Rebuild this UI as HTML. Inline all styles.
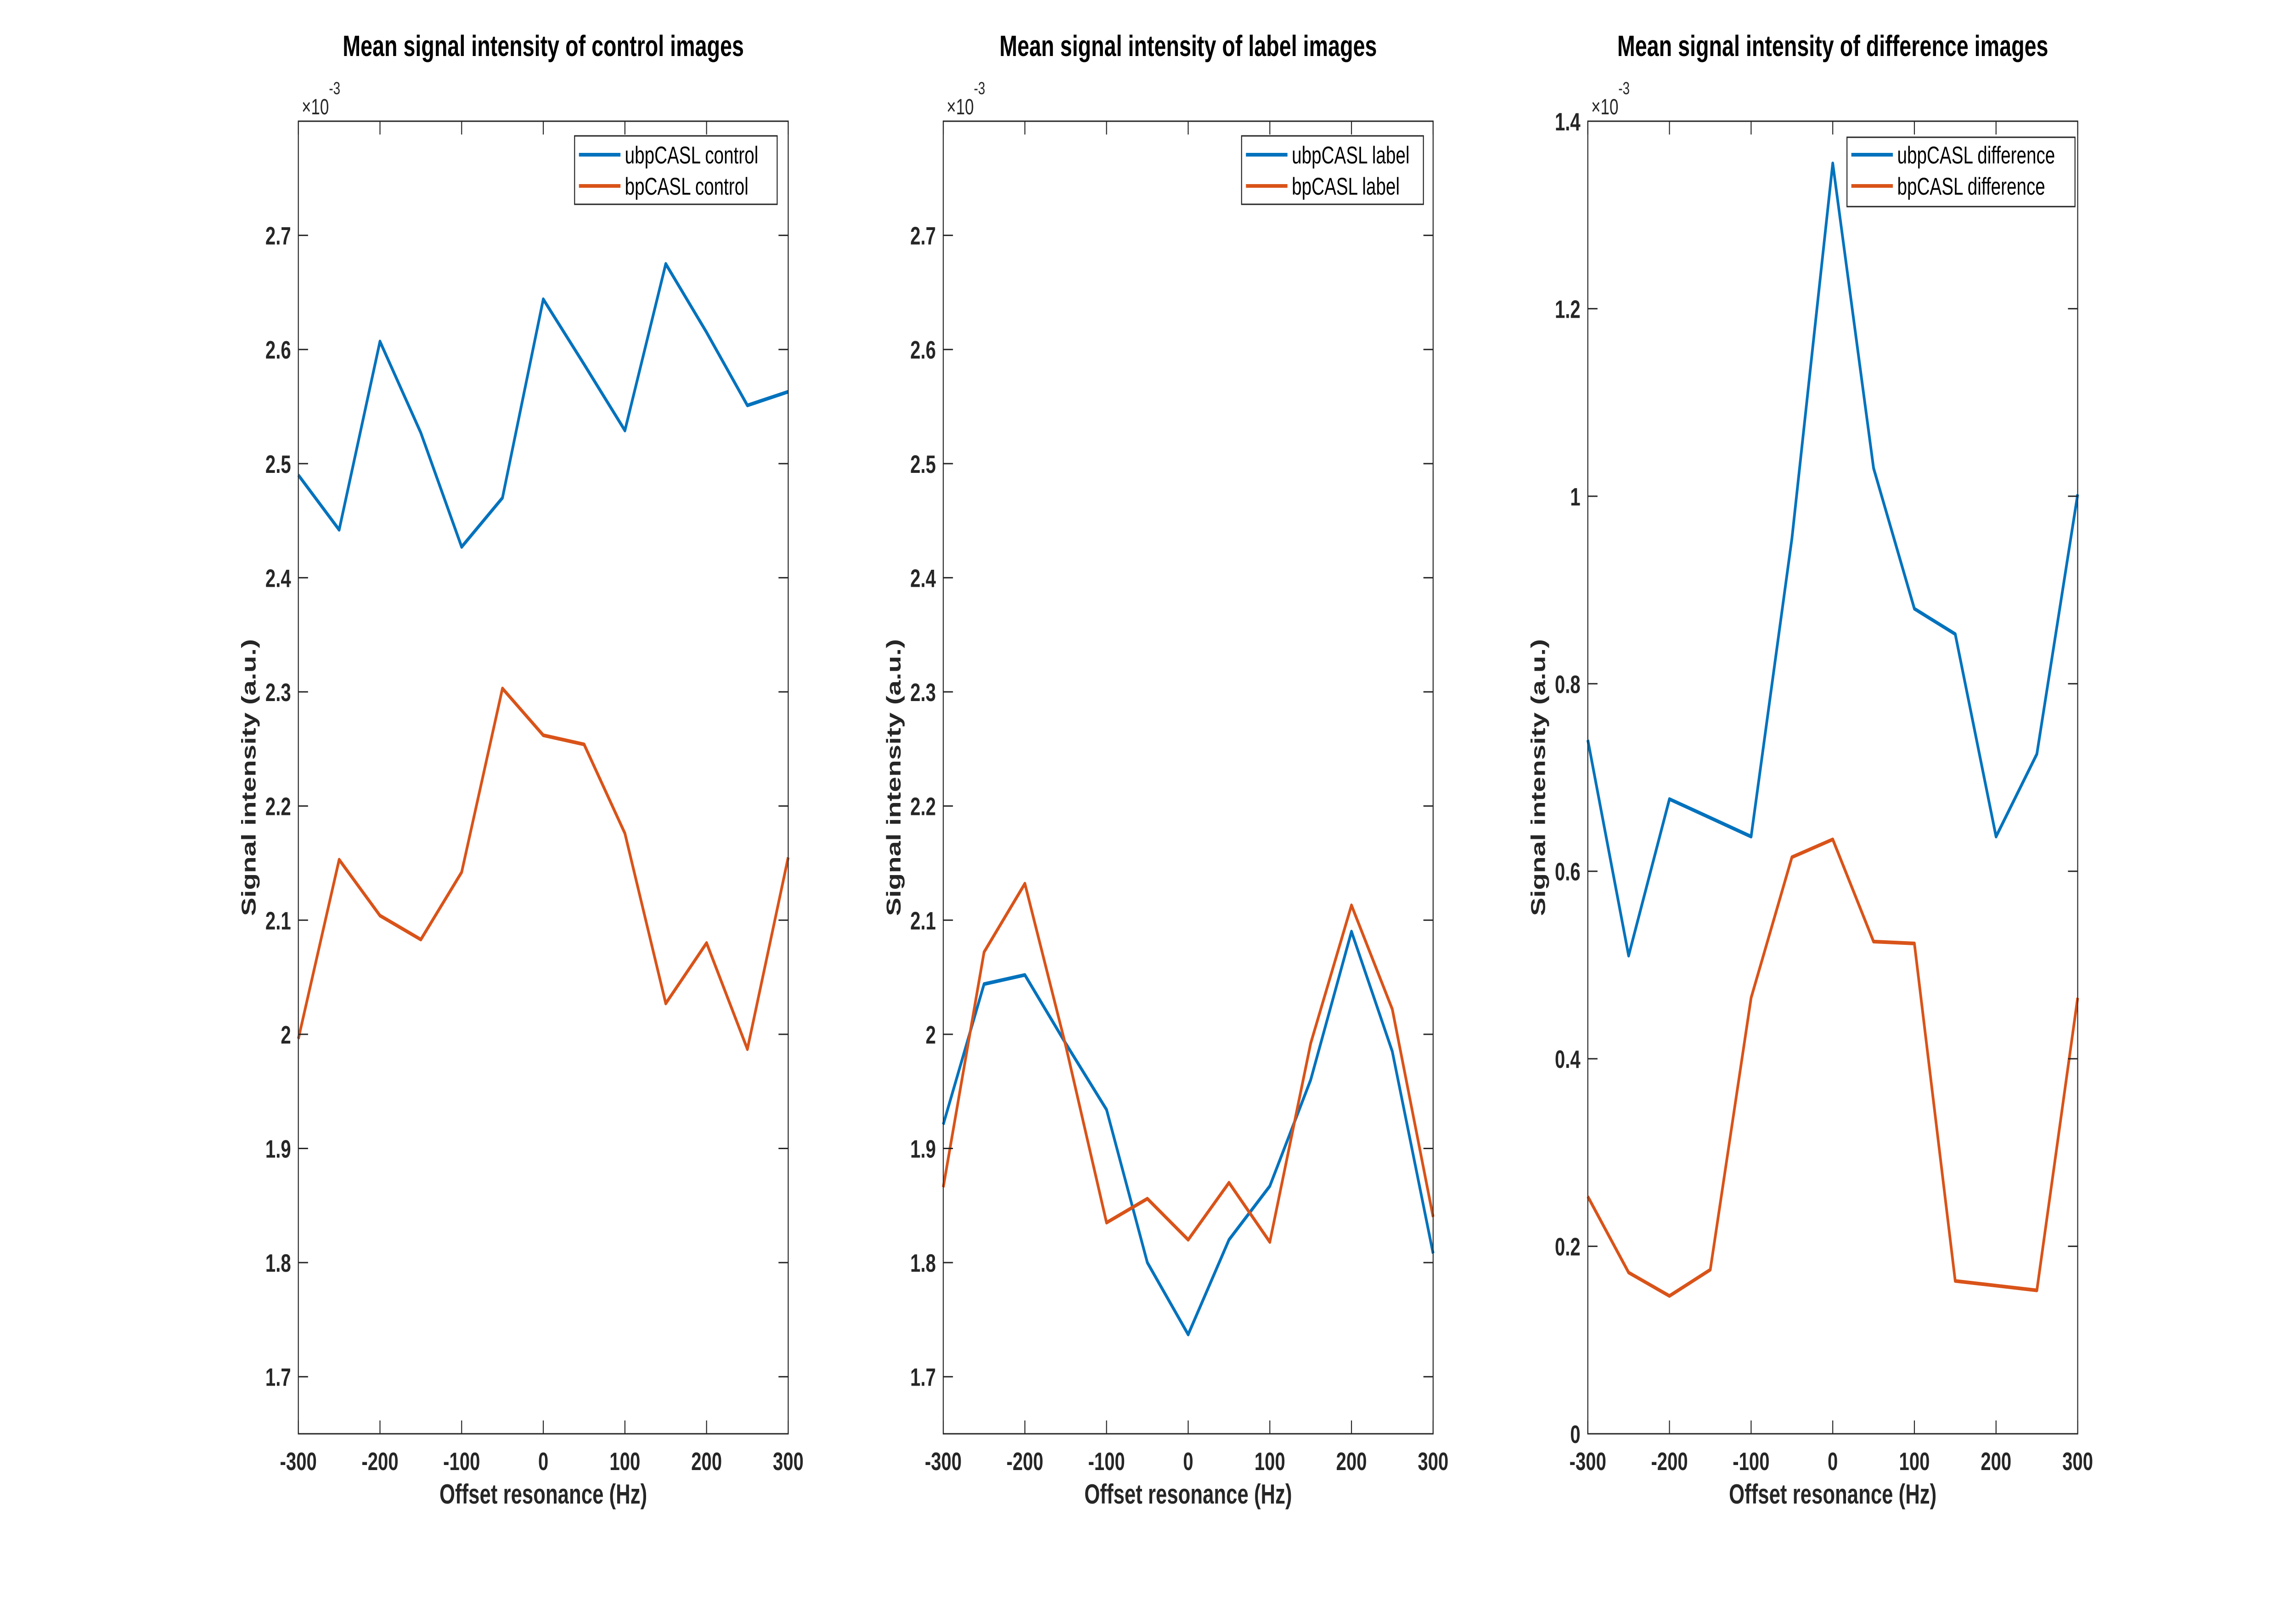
<!DOCTYPE html>
<html><head><meta charset="utf-8"><style>
html,body{margin:0;padding:0;background:#fff;width:100%;height:100%;overflow:hidden;}
svg{display:block;width:100vw;height:100vh;font-family:"Liberation Sans",Arial,sans-serif;}
</style></head>
<body>
<svg id="fig" viewBox="0 0 6857 3509" preserveAspectRatio="none" xmlns="http://www.w3.org/2000/svg">
<rect x="0" y="0" width="6857" height="3509" fill="#ffffff"/>
</svg>
<script>
const offsets = [-300,-250,-200,-150,-100,-50,0,50,100,150,200,250,300];
const xTicks = [-300,-200,-100,0,100,200,300];
const xTickLabels = ["-300","-200","-100","0","100","200","300"];
const yTicksA = [1.7,1.8,1.9,2.0,2.1,2.2,2.3,2.4,2.5,2.6,2.7];
const yTickLabelsA = ["1.7","1.8","1.9","2","2.1","2.2","2.3","2.4","2.5","2.6","2.7"];
const yTicksC = [0,0.2,0.4,0.6,0.8,1.0,1.2,1.4];
const yTickLabelsC = ["0","0.2","0.4","0.6","0.8","1","1.2","1.4"];
const ubpControl = [2.490,2.442,2.607,2.527,2.427,2.470,2.644,2.587,2.529,2.675,2.615,2.551,2.563];
const bpControl = [1.996,2.153,2.104,2.083,2.142,2.303,2.262,2.254,2.176,2.027,2.080,1.987,2.155];
const ubpLabel = [1.921,2.044,2.052,1.992,1.934,1.800,1.737,1.820,1.867,1.960,2.090,1.985,1.808];
const bpLabel = [1.866,2.072,2.132,1.990,1.835,1.856,1.820,1.870,1.818,1.992,2.113,2.022,1.840];
const ubpDiff = [0.740,0.510,0.677,0.657,0.637,0.955,1.355,1.030,0.880,0.853,0.637,0.725,1.002];
const bpDiff = [0.253,0.172,0.147,0.175,0.465,0.615,0.634,0.525,0.523,0.163,0.158,0.153,0.465];

const NS="http://www.w3.org/2000/svg";
const svg=document.getElementById('fig');
function mk(tag,attrs,parent){const e=document.createElementNS(NS,tag);for(const k in attrs)e.setAttribute(k,attrs[k]);(parent||svg).appendChild(e);return e;}
const BLUE="#0072BD",RED="#D95319",AX="#262626";
const TOP=264,BOT=3123,W=1463;

const panels=[
 {key:'control',left:891,ylim:[1.65,2.8],yt:yTicksA,ytl:yTickLabelsA,s1:ubpControl,s2:bpControl,
  title:"Mean signal intensity of control images",n1:"ubpCASL control",n2:"bpCASL control",leg:[1716,2321,296,445]},
 {key:'label',left:2817,ylim:[1.65,2.8],yt:yTicksA,ytl:yTickLabelsA,s1:ubpLabel,s2:bpLabel,
  title:"Mean signal intensity of label images",n1:"ubpCASL label",n2:"bpCASL label",leg:[3708,4251,296,445]},
 {key:'difference',left:4742,ylim:[0,1.4],yt:yTicksC,ytl:yTickLabelsC,s1:ubpDiff,s2:bpDiff,
  title:"Mean signal intensity of difference images",n1:"ubpCASL difference",n2:"bpCASL difference",leg:[5516,6197,299,450]}
];

panels.forEach(p=>{
  const g=mk('g',{});
  
  
  const L=p.left,R=p.left+W;
  const xs=v=>L+(v+300)/600*W;
  const ys=v=>BOT-(v-p.ylim[0])/(p.ylim[1]-p.ylim[0])*(BOT-TOP);
  const t=mk('text',{x:(L+R)/2,y:122,'text-anchor':'middle','font-size':64,'font-weight':'bold',fill:'#000'},g);
  t.textContent=p.title;
  
  
  const ex=mk('text',{x:L+10,y:249,'font-size':48,fill:AX},g);
  
  
  const e1=mk('tspan',{},ex);e1.textContent="\u00d710";
  const e2=mk('tspan',{dy:-44,'font-size':38},ex);e2.textContent="-3";
  [[p.s1,BLUE,p.n1],[p.s2,RED,p.n2]].forEach(([s,c,n],i)=>{
    const pts=offsets.map((o,j)=>xs(o).toFixed(1)+','+ys(s[j]).toFixed(1)).join(' ');
    const pl=mk('polyline',{points:pts,fill:'none',stroke:c,'stroke-width':8,'stroke-linejoin':'round'},g);
    
    
  });
  const bx=mk('rect',{x:L,y:TOP,width:W,height:BOT-TOP,fill:'none',stroke:AX,'stroke-width':3},g);
  
  
  xTicks.forEach((v,i)=>{
    const x=xs(v);
    mk('line',{x1:x,y1:BOT,x2:x,y2:BOT-29,stroke:AX,'stroke-width':3},g);
    mk('line',{x1:x,y1:TOP,x2:x,y2:TOP+29,stroke:AX,'stroke-width':3},g);
    const tl=mk('text',{x:x,y:3202,'text-anchor':'middle','font-size':55,'font-weight':'bold',fill:AX},g);
    tl.textContent=xTickLabels[i];
    
    
  });
  p.yt.forEach((v,i)=>{
    const y=ys(v);
    mk('line',{x1:L,y1:y,x2:L+29,y2:y,stroke:AX,'stroke-width':3},g);
    mk('line',{x1:R,y1:y,x2:R-29,y2:y,stroke:AX,'stroke-width':3},g);
    const tl=mk('text',{x:L-22,y:y+20,'text-anchor':'end','font-size':55,'font-weight':'bold',fill:AX},g);
    tl.textContent=p.ytl[i];
    
    
  });
  const xl=mk('text',{x:(L+R)/2,y:3275,'text-anchor':'middle','font-size':60,'font-weight':'bold',fill:AX},g);
  xl.textContent="Offset resonance (Hz)";
  
  
  const yx=L-128,yy=(TOP+BOT)/2;
  const yl=mk('text',{x:yx,y:yy,'text-anchor':'middle','font-size':60,'font-weight':'bold',fill:AX,transform:`rotate(-90 ${yx} ${yy})`},g);
  yl.textContent="Signal intensity (a.u.)";
  
  
  const [l0,l1,t0,t1]=p.leg;
  const lg=mk('g',{},g);
  
  
  mk('rect',{x:l0,y:t0,width:l1-l0,height:t1-t0,fill:'#fff',stroke:AX,'stroke-width':3},lg);
  [[p.n1,BLUE,337],[p.n2,RED,405]].forEach(([n,c,y],i)=>{
    const en=mk('g',{},lg);
    
    
    mk('line',{x1:l0+13,y1:y,x2:l0+137,y2:y,stroke:c,'stroke-width':8},en);
    const tx=mk('text',{x:l0+150,y:y+19,'font-size':53,fill:'#000'},en);
    tx.textContent=n;
  });
});
</script>
</body></html>
